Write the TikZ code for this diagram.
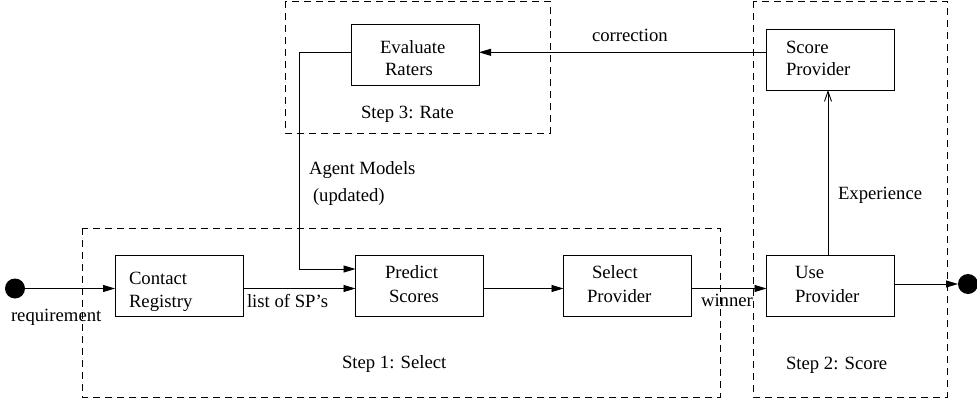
\documentclass[tikz,border=0pt]{standalone}
\usepackage{fontspec}
\setmainfont{Liberation Serif}
\usetikzlibrary{arrows.meta}
\begin{document}
\begin{tikzpicture}[x=1pt,y=-1pt,
  font=\fontsize{18.7}{23}\selectfont,
  every node/.style={inner sep=0pt, outer sep=0pt},
  stagebox/.style={draw, line width=0.9pt, minimum width=128pt, minimum height=61pt},
  txt/.style={anchor=base west},
  group/.style={draw, dashed, line width=0.8pt, dash pattern=on 7pt off 5pt},
  flow/.style={draw, line width=0.9pt, -{Triangle[length=12pt,width=7pt]}},
  openflow/.style={draw, line width=0.9pt, -{Straight Barb[length=10pt,width=7pt]}},
  terminal/.style={circle, fill=black, minimum size=20pt}]
\useasboundingbox (0,0) rectangle (977,404);

% dashed step groups
\draw[group] (285,1) rectangle (550,133);
\draw[group] (753,1) rectangle (947,397);
\draw[group] (82,228) rectangle (720,397);

% activity boxes
\node[stagebox] (contact)  at (179,286) {};
\node[stagebox] (predict)  at (419.5,286) {};
\node[stagebox] (select)   at (627.5,286) {};
\node[stagebox] (use)      at (830.5,286) {};
\node[stagebox] (score)    at (830.5,59.5) {};
\node[stagebox] (evaluate) at (415,54.5) {};

% box texts
\node[txt] (contactA)  at (129,284) {Contact};
\node[txt] (contactB)  at (129,307) {Registry};
\node[txt] (predictA)  at (385,278) {Predict};
\node[txt] (predictB)  at (389,302) {Scores};
\node[txt] (selectA)   at (592,278) {Select};
\node[txt] (selectB)   at (587,302) {Provider};
\node[txt] (useA)      at (795,278) {Use};
\node[txt] (useB)      at (795,302) {Provider};
\node[txt] (scoreA)    at (786,53) {Score};
\node[txt] (scoreB)    at (786,76) {Provider};
\node[txt] (evaluateA) at (380,53) {Evaluate};
\node[txt] (evaluateB) at (385,76) {Raters};

% step captions
\node[txt] (step1) at (342,368) {Step 1: Select};
\node[txt] (step2) at (786,369) {Step 2: Score};
\node[txt] (step3) at (361,118) {Step 3: Rate};

% start and end points
\node[terminal] (start) at (15,288.5) {};
\node[terminal] (finish) at (968,284) {};

% helper coordinates for the routing
\coordinate (row) at (0,288.5);
\coordinate (outrow) at (0,284);
\coordinate (corr) at (0,52.3);
\coordinate (feed) at (299.3,52.3);
\coordinate (bend) at (299.3,269);
\coordinate (expx) at (828,0);

% connectors
\draw[flow] (start.center) -- (start -| contact.west);
\draw[flow] (contact.east |- row) -- (predict.west |- row);
\draw[flow] (predict.east |- row) -- (select.west |- row);
\draw[flow] (select.east |- row) -- (use.west |- row);
\draw[flow] (use.east |- outrow) -- (finish.west);
\draw[openflow] (expx |- use.north) -- (expx |- score.south);
\draw[flow] (score.west |- corr) -- (evaluate.east |- corr);
\draw[flow] (evaluate.west |- corr) -- (feed) -- (bend) -- (bend -| predict.west);

% connector labels
\node[txt] (lblreq)  at (11,321) {requirement};
\node[txt] (lbllist) at (247,307) {list of SP’s};
\node[txt] (lblwin)  at (701,306) {winner};
\node[txt] (lblexp)  at (838,199) {Experience};
\node[txt] (lblcorr) at (592,42) {correction};
\node[txt] (lblagA)  at (309,174) {Agent Models};
\node[txt] (lblagB)  at (313,201) {(updated)};
\end{tikzpicture}
\end{document}
